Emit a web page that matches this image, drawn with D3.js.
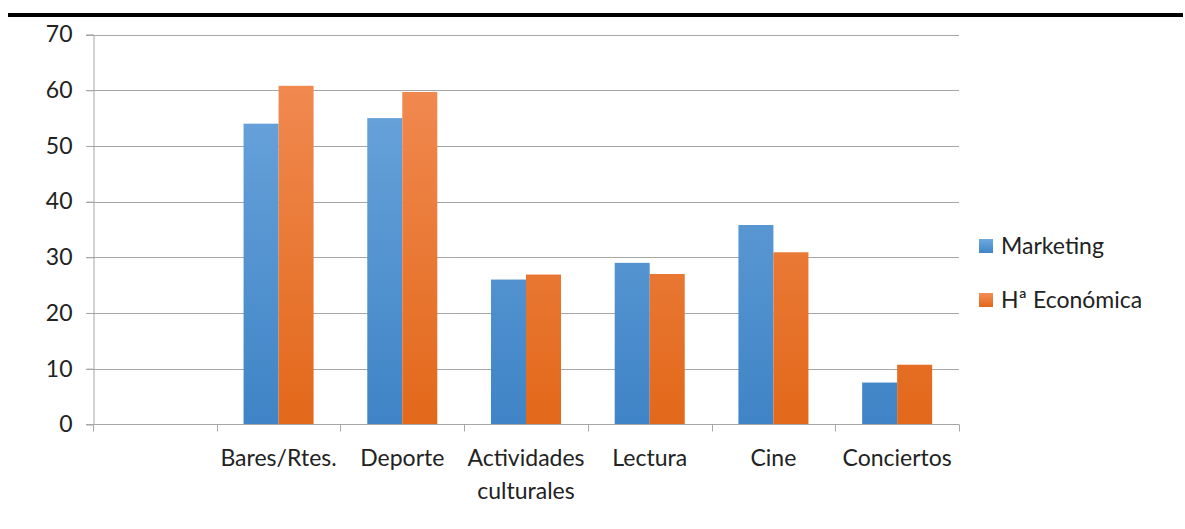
<!DOCTYPE html>
<html>
<head>
<meta charset="utf-8">
<script src="https://cdn.jsdelivr.net/npm/d3@7"></script>
<style>
  html, body { margin: 0; padding: 0; background: #fff; }
  svg { display: block; }
  text { font-family: Lato, "Open Sans", sans-serif; fill: #222; }
</style>
</head>
<body>
<svg id="chart" width="1185" height="529"></svg>
<script>
const categories = ["", "Bares/Rtes.", "Deporte", "Actividades culturales", "Lectura", "Cine", "Conciertos"];
const seriesNames = ["Marketing", "Hª Económica"];
const marketing = [null, 54, 55, 26, 29, 35.8, 7.5];
const economica = [null, 60.8, 59.7, 26.9, 27, 30.9, 10.7];
const yTicks = [0, 10, 20, 30, 40, 50, 60, 70];

const seriesValues = [marketing, economica];
const colors = [
  { top: "#70a8de", bottom: "#3f84c6" },
  { top: "#f38e58", bottom: "#e2681a" }
];

const svg = d3.select("#chart");
const pLeft = 93, pRight = 959, pTop = 34.6, pBottom = 424.3;
const fs = 23;

// top rule
svg.append("rect").attr("x", 8).attr("y", 13).attr("width", 1175).attr("height", 4).attr("fill", "#000");

const x = d3.scaleBand().domain(d3.range(categories.length)).range([pLeft, pRight]).padding(0);
const inner = d3.scaleBand().domain(d3.range(seriesNames.length))
  .range([x.bandwidth() * 0.217, x.bandwidth() * 0.783]).padding(0);
const y = d3.scaleLinear().domain([0, 70]).range([pBottom, pTop]);

const defs = svg.append("defs");
colors.forEach((c, i) => {
  const g = defs.append("linearGradient").attr("id", "grad" + i)
    .attr("gradientUnits", "userSpaceOnUse")
    .attr("x1", 0).attr("x2", 0)
    .attr("y1", pTop).attr("y2", pBottom);
  g.append("stop").attr("offset", "0%").attr("stop-color", c.top);
  g.append("stop").attr("offset", "100%").attr("stop-color", c.bottom);
  const lg = defs.append("linearGradient").attr("id", "lg" + i)
    .attr("x1", 0).attr("y1", 0).attr("x2", 0).attr("y2", 1);
  lg.append("stop").attr("offset", "0%").attr("stop-color", c.top);
  lg.append("stop").attr("offset", "100%").attr("stop-color", c.bottom);
});

// gridlines
svg.append("g")
  .selectAll("line").data(yTicks.filter(d => d > 0)).join("line")
  .attr("x1", pLeft - 7).attr("x2", pRight)
  .attr("y1", d => Math.round(y(d)) + 0.5).attr("y2", d => Math.round(y(d)) + 0.5)
  .attr("stroke", "#a6a6a6").attr("stroke-width", 1);

// y axis
const yAxis = svg.append("g").attr("transform", `translate(${pLeft + 0.5},0)`)
  .call(d3.axisLeft(y).tickValues(yTicks).tickSize(7).tickPadding(14).tickFormat(d3.format("d")));
yAxis.select(".domain").attr("stroke", "#a6a6a6");
yAxis.selectAll(".tick line").attr("stroke", "#a6a6a6");
yAxis.selectAll(".tick text").attr("font-size", fs).attr("fill", "#222")
  .attr("font-family", "Lato, 'Open Sans', sans-serif");

// bars
const groups = svg.append("g").selectAll("g").data(categories.map((c, i) => i)).join("g")
  .attr("transform", i => `translate(${x(i)},0)`);
groups.selectAll("rect")
  .data(i => seriesValues.map((s, k) => ({ k, v: s[i] })).filter(d => d.v != null))
  .join("rect")
  .attr("x", d => inner(d.k))
  .attr("width", inner.bandwidth())
  .attr("y", d => y(d.v))
  .attr("height", d => y(0) - y(d.v))
  .attr("fill", d => `url(#grad${d.k})`);

// x axis
const xBase = Math.round(y(0)) + 0.5;
svg.append("line").attr("x1", pLeft - 7).attr("x2", pRight).attr("y1", xBase).attr("y2", xBase)
  .attr("stroke", "#a6a6a6");
const boundaries = categories.map((c, i) => x(i)).concat([x.range()[1]]);
svg.append("g").selectAll("line").data(boundaries).join("line")
  .attr("x1", d => Math.round(d) + 0.5).attr("x2", d => Math.round(d) + 0.5)
  .attr("y1", xBase).attr("y2", xBase + 7)
  .attr("stroke", "#a6a6a6");

// category labels
const lbl = svg.append("g").selectAll("text").data(categories.map((c, i) => i)).join("text")
  .attr("x", i => x(i) + x.bandwidth() / 2)
  .attr("y", 466)
  .attr("text-anchor", "middle")
  .attr("font-size", fs);
lbl.each(function(i) {
  const words = categories[i] === "Actividades culturales" ? ["Actividades", "culturales"] : [categories[i]];
  const t = d3.select(this);
  words.forEach((w, j) => {
    t.append("tspan").attr("x", x(i) + x.bandwidth() / 2).attr("dy", j === 0 ? 0 : 33).text(w);
  });
});

// legend
const legend = svg.append("g").selectAll("g").data(seriesNames).join("g")
  .attr("transform", (d, i) => `translate(979,${246 + i * 54})`);
legend.append("rect").attr("x", 0).attr("y", -7).attr("width", 14).attr("height", 14)
  .attr("fill", (d, i) => `url(#lg${i})`);
legend.append("text").attr("x", 22).attr("y", 8).attr("font-size", fs).text(d => d);
</script>
</body>
</html>
